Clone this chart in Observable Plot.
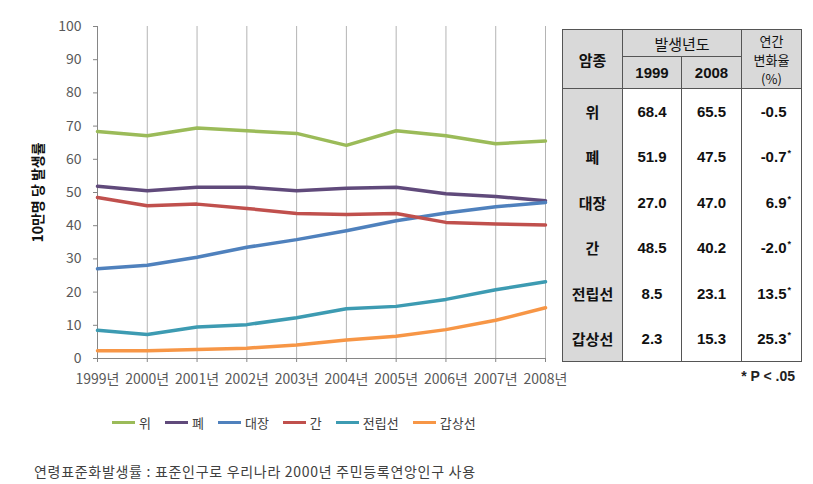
<!DOCTYPE html>
<html><head><meta charset="utf-8">
<script src="https://cdn.jsdelivr.net/npm/d3@7"></script>
<script src="https://cdn.jsdelivr.net/npm/@observablehq/plot@0.6"></script>
<style>
body{margin:0;background:#fff;font-family:"Noto Sans CJK KR","Noto Sans",sans-serif;}
#wrap{position:relative;width:813px;height:484px;overflow:hidden;}
#chart{position:absolute;left:0;top:0;}
#chart svg text{font-family:"Noto Sans CJK KR","Noto Sans",sans-serif;}
#legend{position:absolute;left:112px;top:413px;display:flex;align-items:center;font-size:13px;color:#404040;}
.item{display:flex;align-items:center;margin-right:14px;}
.sw{width:23px;height:3px;margin-right:4px;}
#caption{position:absolute;left:34px;top:461px;font-size:14px;letter-spacing:0.7px;color:#404040;}
#tbl{position:absolute;left:562px;top:29px;border-collapse:collapse;font-size:15px;background:#fff;}
#tbl td{border:1px solid #555;text-align:center;padding:0;color:#111;}
#tbl .num{font-family:"Liberation Sans",Arial,sans-serif;font-weight:bold;}
#tbl .hd{background:#d9d9d9;}
#tbl .kr{font-weight:bold;}
#tbl tr.d td{border-top:none;border-bottom:none;}
#tbl tr.last td{border-bottom:1px solid #555;}
#tbl td.r{text-align:right;padding-right:10px;}
#tbl .hl{display:block;font-size:13px;line-height:19px;height:19px;}
sup{font-size:9px;vertical-align:6px;margin-left:1px;}
#note{position:absolute;right:18px;top:368px;font-family:"Liberation Sans",Arial,sans-serif;font-weight:bold;font-size:14px;color:#222;}
</style></head>
<body><div id="wrap"><div id="chart"></div><div id="legend"></div><div id="caption"></div><table id="tbl"></table><div id="note"></div></div>
<script>
const years = [1999,2000,2001,2002,2003,2004,2005,2006,2007,2008];
const names = ["위","폐","대장","간","전립선","갑상선"];
const colors = ["#9BBB59","#604A7B","#4F81BD","#C0504D","#3D9BB2","#F79646"];
const stomach  = [68.4,67.1,69.4,68.6,67.8,64.2,68.6,67.1,64.7,65.5];
const lung     = [51.9,50.5,51.6,51.6,50.5,51.3,51.6,49.6,48.8,47.5];
const colon    = [27.0,28.1,30.5,33.5,35.8,38.5,41.5,43.8,45.7,47.0];
const liver    = [48.5,46.0,46.5,45.2,43.7,43.4,43.7,41.0,40.5,40.2];
const prostate = [8.5,7.2,9.5,10.2,12.3,15.0,15.7,17.8,20.7,23.1];
const thyroid  = [2.3,2.3,2.7,3.1,4.1,5.6,6.7,8.7,11.5,15.3];
const seriesValues = [stomach,lung,colon,liver,prostate,thyroid];
const yTicks = [0,10,20,30,40,50,60,70,80,90,100];
const yTitle = "10만명 당 발생률";
const caption = "연령표준화발생률 : 표준인구로 우리나라 2000년 주민등록연앙인구 사용";
// table
const tblHeader = ["암종","발생년도","연간","변화율","(%)"];
const tblYears = ["1999","2008"];
const v1999 = ["68.4","51.9","27.0","48.5","8.5","2.3"];
const v2008 = ["65.5","47.5","47.0","40.2","23.1","15.3"];
const change = ["-0.5","-0.7","6.9","-2.0","13.5","25.3"];
const signif = [false,true,true,true,true,true];
const note = "* P < .05";

const data = [];
names.forEach((n,i)=>years.forEach((y,j)=>data.push({name:n,year:y,value:seriesValues[i][j]})));

const chart = Plot.plot({
  width:580, height:400,
  marginLeft:97, marginRight:35, marginTop:26, marginBottom:42,
  style:{fontSize:"14px", color:"#595959", background:"transparent"},
  x:{type:"linear", domain:[1999,2008], label:null},
  y:{domain:[0,100], label:null},
  color:{domain:names, range:colors},
  marks:[
    Plot.gridX(years,{stroke:"#b4b4b4", strokeOpacity:1}),
    Plot.ruleX([1999],{stroke:"#868686"}),
    Plot.ruleY([0],{stroke:"#868686"}),
    Plot.axisX({ticks:years, tickFormat:d=>d+"년", tickSize:4, tickPadding:12, stroke:"#868686", fill:"#595959", fontSize:14}),
    Plot.axisY({ticks:yTicks, tickSize:4, tickPadding:12, stroke:"#868686", fill:"#595959", fontSize:14}),
    Plot.text([yTitle],{frameAnchor:"left", dx:-59, rotate:-90, textAnchor:"middle", fontSize:14, fontWeight:"bold", fill:"#111"}),
    Plot.line(data,{x:"year", y:"value", z:"name", stroke:"name", strokeWidth:3.5, strokeLinejoin:"round", strokeLinecap:"round"})
  ]
});
document.getElementById("chart").appendChild(chart);

// legend
const lg = document.getElementById("legend");
names.forEach((n,i)=>{
  const it=document.createElement("div");it.className="item";
  it.innerHTML=`<div class="sw" style="background:${colors[i]}"></div><span>${n}</span>`;
  lg.appendChild(it);
});
document.getElementById("caption").textContent = caption;
document.getElementById("note").textContent = note;

// table
const t = document.getElementById("tbl");
let html = `<colgroup><col style="width:60px"><col style="width:59px"><col style="width:60px"><col style="width:60px"></colgroup>`;
html += `<tr style="height:27px"><td class="hd kr" rowspan="2">${tblHeader[0]}</td><td class="hd" colspan="2">${tblHeader[1]}</td><td class="hd" rowspan="2"><span class="hl">${tblHeader[2]}</span><span class="hl">${tblHeader[3]}</span><span class="hl">${tblHeader[4]}</span></td></tr>`;
html += `<tr style="height:32px"><td class="hd num">${tblYears[0]}</td><td class="hd num">${tblYears[1]}</td></tr>`;
names.forEach((n,i)=>{
  const cls = i===names.length-1 ? "d last" : "d";
  html += `<tr class="${cls}" style="height:45.5px"><td class="hd kr">${n}</td><td class="num">${v1999[i]}</td><td class="num">${v2008[i]}</td><td class="num r">${change[i]}${signif[i]?"<sup>*</sup>":'<sup style="visibility:hidden">*</sup>'}</td></tr>`;
});
t.innerHTML = html;
</script></body></html>
